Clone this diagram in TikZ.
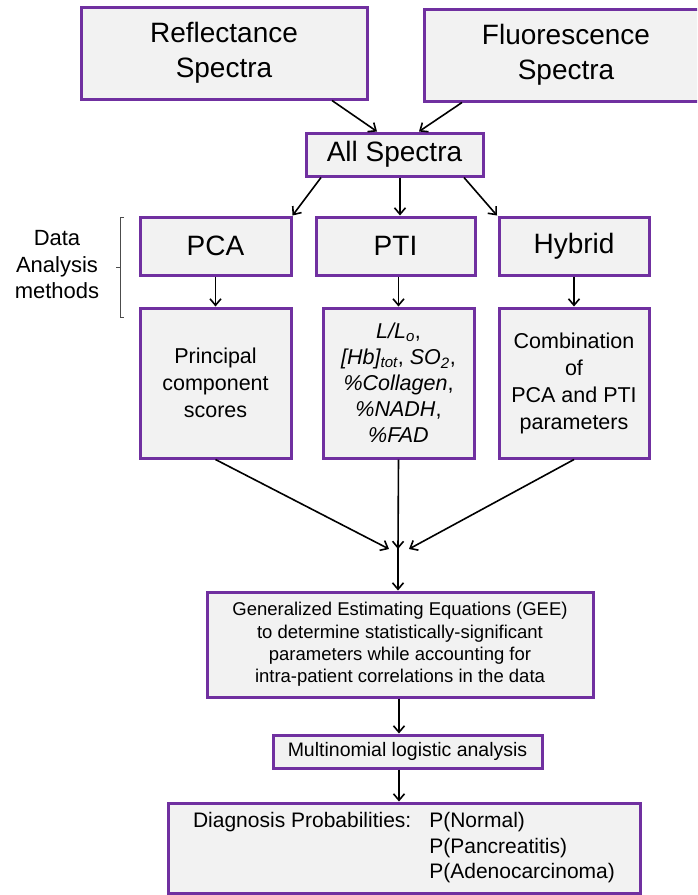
\documentclass[tikz,border=0pt]{standalone}
\usepackage{fontspec}
\setmainfont{Liberation Sans}
\usetikzlibrary{arrows.meta,calc}
\definecolor{boxpurple}{HTML}{7030A0}
\definecolor{boxfill}{HTML}{F2F2F2}
\begin{document}
\begin{tikzpicture}[x=1pt,y=-1pt,
  box/.style={draw=boxpurple,fill=boxfill,line width=3pt,inner sep=0pt,align=center},
  big/.style={font=\fontsize{28}{34.5}\selectfont},
  mid/.style={font=\fontsize{21.5}{27}\selectfont},
  sml/.style={font=\fontsize{18.5}{22.3}\selectfont},
  arr/.style={-{Straight Barb[length=6.5pt,width=11pt]},line width=1.6pt,black}]
\useasboundingbox (0,0) rectangle (697,895);
\clip (0,0) rectangle (697,895);
% top row
\node[box,big,minimum width=286pt,minimum height=92pt] (refl) at (224,53) {Reflectance\\Spectra};
\node[box,big,minimum width=284pt,minimum height=92pt] (fluo) at (566,55) {Fluorescence\\Spectra};
\node[box,big,minimum width=177pt,minimum height=43pt] (all) at (394.5,154.5) {All Spectra};
% methods
\node[box,big,minimum width=151pt,minimum height=58pt] (pca) at (215.5,246) {PCA};
\node[box,big,minimum width=159pt,minimum height=58pt] (pti) at (395.5,246) {PTI};
\node[box,big,minimum width=150pt,minimum height=58pt] (hyb) at (574,246) {Hybrid};
% outputs
\node[box,mid,minimum width=151pt,minimum height=150pt] (pcas) at (215.5,383) {Principal\\component\\scores};
\node[box,mid,font=\fontsize{21.5}{26}\selectfont,minimum width=151pt,minimum height=150pt] (ptis) at (398.5,383)
  {\textit{L/L\textsubscript{o}},\\\textit{[Hb]\textsubscript{tot}}, \textit{SO\textsubscript{2}},\\\textit{\%Collagen},\\\textit{\%NADH},\\\textit{\%FAD}};
\node[box,mid,minimum width=150pt,minimum height=150pt] (hybs) at (574,383) {Combination\\of\\PCA and PTI\\parameters};
% lower
\coordinate (meet) at (398,549);
\node[box,sml,minimum width=386pt,minimum height=105pt] (gee) at (400,644.5)
  {Generalized Estimating Equations (GEE)\\to determine statistically-significant\\parameters while accounting for\\intra-patient correlations in the data};
\node[box,font=\fontsize{19.5}{23}\selectfont,minimum width=269pt,minimum height=33pt] (mult) at (407.5,751.5) {Multinomial logistic analysis};
\node[box,font=\fontsize{21}{25.5}\selectfont,minimum width=472pt,minimum height=90pt] (diag) at (404,848)
  {\begin{tabular}{@{}l@{\hspace{18pt}}l@{}}Diagnosis Probabilities: & P(Normal)\\ & P(Pancreatitis)\\ & P(Adenocarcinoma)\end{tabular}};
% side label
\node[font=\fontsize{22}{26.5}\selectfont,align=center] (lbl) at (57,265) {Data\\Analysis\\methods};
\draw[black!70,line width=0.8pt] (124,217) -- (120,217) -- (120,317) -- (124,317);
\draw[black!70,line width=0.8pt] (120,267) -- (116,267);
% arrows
\draw[arr] ([xshift=108pt]refl.south) -- ([xshift=-17.5pt]all.north);
\draw[arr] ([xshift=-104pt]fluo.south) -- ([xshift=24.5pt]all.north);
\draw[arr] ([xshift=-73.5pt]all.south) -- (pca.north east);
\draw[arr] ([xshift=5.5pt]all.south) -- ([xshift=4.5pt]pti.north);
\draw[arr] ([xshift=69.5pt]all.south) -- ([xshift=-77pt]hyb.north);
\draw[arr] (pca) -- (pcas);
\draw[arr] ([xshift=3pt]pti.south) -- ([xshift=0pt]ptis.north);
\draw[arr] (hyb) -- (hybs);
\draw[arr] (pcas.south) -- ([xshift=-9pt]meet);
\draw[arr] (ptis.south) -- (meet);
\draw[arr] (hybs.south) -- ([xshift=11pt]meet);
\draw[arr] ([yshift=8pt]meet) -- ([xshift=-2pt]gee.north);
\draw[arr] ([xshift=-1pt]gee.south) -- ([xshift=-8.5pt]mult.north);
\draw[arr] ([xshift=-8.5pt]mult.south) -- ([xshift=-5pt]diag.north);
\end{tikzpicture}
\end{document}
